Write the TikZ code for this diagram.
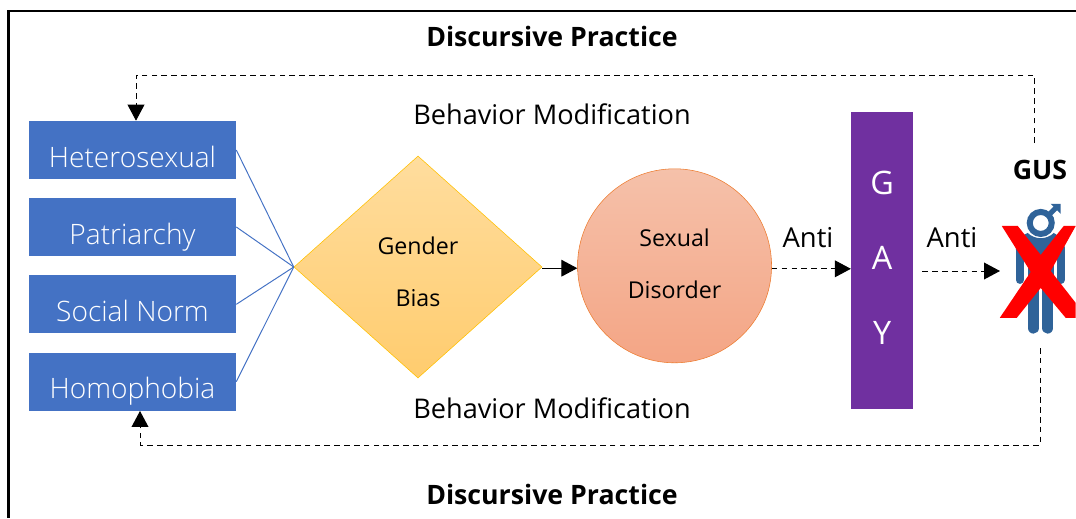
\documentclass[tikz,border=0pt]{standalone}
\usepackage{fontspec}
\setmainfont{Open Sans}
\newfontfamily\lightfont{Open Sans Light}
\usepackage{xcolor}
\usetikzlibrary{positioning, shapes, shapes.geometric, calc, arrows.meta}

\definecolor{boxblue}{HTML}{4472C4}
\definecolor{gaypurple}{HTML}{7030A0}
\definecolor{manblue}{HTML}{2F6399}
\definecolor{biasedge}{HTML}{FFC000}
\definecolor{biastop}{HTML}{FFDD9E}
\definecolor{biasbottom}{HTML}{FFCC6E}
\definecolor{disorderedge}{HTML}{ED7D31}
\definecolor{disordertop}{HTML}{F5C1AA}
\definecolor{disorderbottom}{HTML}{F4A585}

\begin{document}
\begin{tikzpicture}[
    attribute/.style={rectangle, fill=boxblue, text=white, minimum width=5.175cm, minimum height=1.45cm, inner sep=0pt, text height=1.08cm, text depth=0.22cm, font=\lightfont\fontsize{20}{24}\selectfont},
    bias/.style={diamond, draw=biasedge, top color=biastop, bottom color=biasbottom, minimum width=6.2cm, minimum height=5.55cm, inner sep=0pt, align=center, font=\fontsize{16.5}{20}\selectfont},
    disorder/.style={circle, draw=disorderedge, top color=disordertop, bottom color=disorderbottom, minimum size=4.85cm, inner sep=0pt, align=center, font=\fontsize{16.5}{20}\selectfont},
    gaybar/.style={rectangle, fill=gaypurple, text=white, minimum width=1.55cm, minimum height=7.425cm, inner sep=0pt, align=center, font=\fontsize{23}{27}\selectfont},
    caption/.style={font=\fontsize{19.3}{23}\selectfont},
    heading/.style={font=\fontsize{19}{23}\selectfont\bfseries},
    label/.style={font=\fontsize{19.5}{23}\selectfont},
    link/.style={draw=boxblue, line width=0.7pt},
    arrow/.style={-{Triangle[length=0.4cm,width=0.42cm]}, black, line width=0.7pt},
    loop/.style={arrow, dash pattern=on 4pt off 3pt}
]
\useasboundingbox (0,0) rectangle (26.9,-12.95);

% Frame
\draw[line width=1.8pt] (26.9,-0.275) -- (0.215,-0.275) -- (0.215,-12.95);

% Attribute boxes
\node[attribute] (heterosexual) at (3.3125,-3.75) {Heterosexual};
\node[attribute, below=0.46cm of heterosexual] (patriarchy) {Patriarchy};
\node[attribute, below=0.47cm of patriarchy] (social_norm) {Social Norm};
\node[attribute, below=0.47cm of social_norm] (homophobia) {Homophobia};

% Middle of the chain
\node[bias] (gender_bias) at (10.45,-6.675) {\rule{0pt}{0.68cm}Gender\\[0.62cm]Bias};
\node[disorder, right=0.875cm of gender_bias, yshift=0.03cm] (sexual_disorder) {Sexual\\[0.6cm]\rule[-0.1cm]{0pt}{0pt}Disorder};
\node[gaybar, right=1.975cm of sexual_disorder, yshift=0.13cm] (gay) {G\\[0.92cm]A\\[0.92cm]\rule[-0.15cm]{0pt}{0pt}Y};

% Titles
\node[heading] (title_top) at (13.8,-0.9) {Discursive Practice};
\node[heading] (title_bottom) at (13.8,-12.35) {Discursive Practice};
\node[caption] (behavior_top) at (13.8,-2.85) {Behavior Modification};
\node[caption] (behavior_bottom) at (13.8,-10.2) {Behavior Modification};
\node[label] (anti_left) at (20.2,-5.95) {Anti};
\node[label] (anti_right) at (23.8,-5.95) {Anti};
\node[heading] (gus) at (26,-4.25) {GUS};

% Ends of the dashed lines
\coordinate (man) at (25,-6.775);
\coordinate (gus_top) at (25.85,-3.575);
\coordinate (gus_bottom) at (26,-8.7);
\coordinate (top_corner) at (3.4,-1.875);
\coordinate (bottom_corner) at (3.5,-11.125);

% Man with the cross
\begin{scope}[x=0.025cm, y=-0.025cm]
\fill[manblue] (1016,250) .. controls (1016,241) and (1021,236) .. (1028,233) .. controls (1035,240) and (1047,240) .. (1054,233) .. controls (1060,236) and (1065,241) .. (1065,250) -- cycle;
\fill[manblue] (1028,248) rectangle (1054,285);
\draw[manblue, line width=0.2cm, line cap=round] (1020,248) -- (1020,280);
\draw[manblue, line width=0.2cm, line cap=round] (1061,248) -- (1061,280);
\draw[manblue, line width=0.285cm, line cap=round] (1033.7,280) -- (1033.7,328);
\draw[manblue, line width=0.285cm, line cap=round] (1048,280) -- (1048,328);
\draw[manblue, line width=0.15cm] (1041,223) circle (11);
\draw[manblue, line width=0.13cm] (1049,215) -- (1057,207);
\fill[manblue] (1051,204) -- (1061,204) -- (1061,214) -- cycle;
\fill[red] (1002,226) -- (1018,226) -- (1041,255) -- (1064,226) -- (1076,226) -- (1051,271) -- (1076,303) -- (1076,318) -- (1066,318) -- (1041,288) -- (1017,318) -- (1000,318) -- (1031,272) -- cycle;
\end{scope}

% Blue links
\foreach \source in {heterosexual, patriarchy, social_norm, homophobia}
    \draw[link] (\source.east) -- (gender_bias.west);

% Arrows
\draw[arrow] ([yshift=-0.03cm]gender_bias.east) -- ([yshift=-0.03cm]gender_bias.east -| sexual_disorder.west);
\draw[loop] ([yshift=-0.075cm]sexual_disorder.east) -- ([yshift=-0.075cm]sexual_disorder.east -| gay.west);
\draw[loop] ([xshift=0.225cm]gay.east |- man) -- (man);
\draw[loop] (gus_top) |- (top_corner) -- (top_corner |- heterosexual.north);
\draw[loop] (gus_bottom) |- (bottom_corner) -- (bottom_corner |- homophobia.south);

\end{tikzpicture}
\end{document}
